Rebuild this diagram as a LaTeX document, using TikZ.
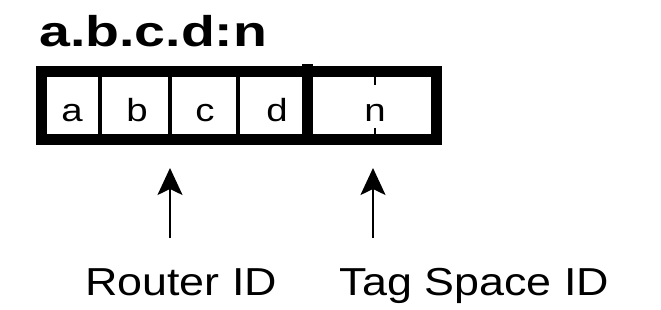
\documentclass[tikz,border=0pt]{standalone}
\usepackage{fontspec}
\setmainfont{Liberation Sans}
\usetikzlibrary{arrows.meta}

\tikzset{
	cellletter/.style = {inner sep=0pt, anchor=base, xscale=1.2, font=\fontsize{32}{36}\selectfont},
	idlabel/.style = {inner sep=0pt, anchor=base, xscale=1.15, font=\fontsize{39}{44}\selectfont},
	idarrow/.style = {line width=2pt, -{Stealth[length=27pt, width=25pt, inset=6pt]}}
}

\begin{document}
\begin{tikzpicture}[x=1pt, y=-1pt]
	\useasboundingbox (0,0) rectangle (661,310);

	% address format
	\node[inner sep=0pt, anchor=base west, xscale=1.29, font=\fontsize{43}{48}\selectfont\bfseries] (addr) at (39,47) {a.b.c.d:n};

	% fields
	\draw[line width=4pt] (100,72) -- (100,139.5);
	\draw[line width=4pt] (169.5,72) -- (169.5,139.5);
	\draw[line width=4pt] (237.5,72) -- (237.5,139.5);
	\draw[line width=2pt] (375,77) -- (375,85);
	\draw[line width=2pt] (375,128) -- (375,135);
	\draw[line width=11pt] (307.5,64) -- (307.5,139.5);
	\draw[line width=11pt, line join=miter] (41,72) rectangle (436.5,139.5);

	\node[cellletter] (fa) at (72,122) {a};
	\node[cellletter] (fb) at (137,122) {b};
	\node[cellletter] (fc) at (205,122) {c};
	\node[cellletter] (fd) at (277,122) {d};
	\node[cellletter] (fn) at (375,122) {n};

	% labels and arrows
	\node[idlabel] (router) at (181,295) {Router ID};
	\node[idlabel] (tagspace) at (474.5,295) {Tag Space ID};

	\coordinate (routertail) at (170,238);
	\coordinate (routertip) at (170,168);
	\coordinate (tagtail) at (373,238);
	\coordinate (tagtip) at (373,168);
	\draw[idarrow] (routertail) -- (routertip);
	\draw[idarrow] (tagtail) -- (tagtip);
\end{tikzpicture}
\end{document}
